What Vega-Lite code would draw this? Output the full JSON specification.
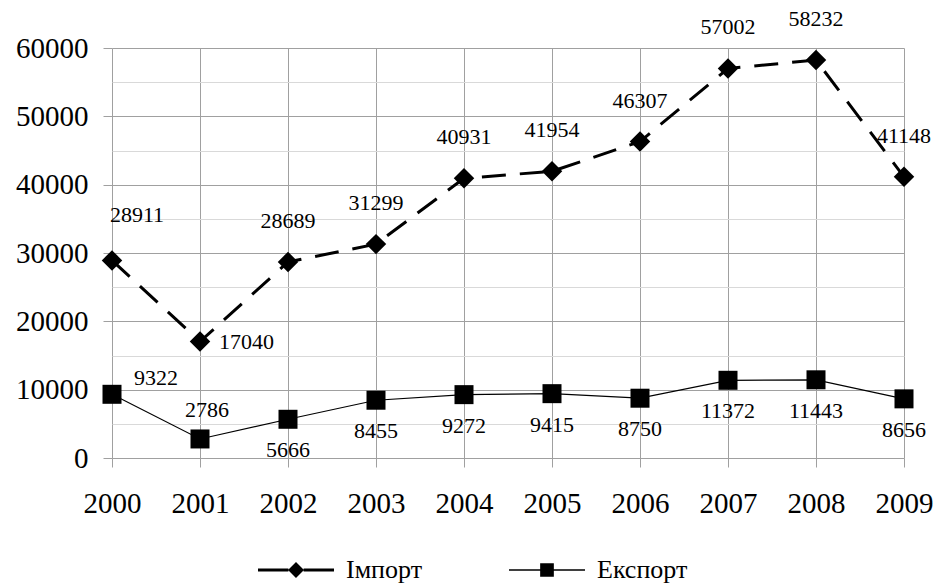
{
  "$schema": "https://vega.github.io/schema/vega-lite/v6.json",
  "autosize": {"type": "none"},
  "padding": {"left": 112, "top": 48, "right": 32, "bottom": 130},
  "width": 792,
  "height": 410,
  "config": {
    "view": {"stroke": null},
    "font": "Liberation Serif, Times New Roman, DejaVu Serif, serif",
    "text": {"font": "Liberation Serif, Times New Roman, DejaVu Serif, serif", "fontSize": 22, "color": "black"}
  },
  "data": {
    "values": [
      {"year": "2000", "series": "Імпорт", "value": 28911},
      {"year": "2001", "series": "Імпорт", "value": 17040},
      {"year": "2002", "series": "Імпорт", "value": 28689},
      {"year": "2003", "series": "Імпорт", "value": 31299},
      {"year": "2004", "series": "Імпорт", "value": 40931},
      {"year": "2005", "series": "Імпорт", "value": 41954},
      {"year": "2006", "series": "Імпорт", "value": 46307},
      {"year": "2007", "series": "Імпорт", "value": 57002},
      {"year": "2008", "series": "Імпорт", "value": 58232},
      {"year": "2009", "series": "Імпорт", "value": 41148},
      {"year": "2000", "series": "Експорт", "value": 9322},
      {"year": "2001", "series": "Експорт", "value": 2786},
      {"year": "2002", "series": "Експорт", "value": 5666},
      {"year": "2003", "series": "Експорт", "value": 8455},
      {"year": "2004", "series": "Експорт", "value": 9272},
      {"year": "2005", "series": "Експорт", "value": 9415},
      {"year": "2006", "series": "Експорт", "value": 8750},
      {"year": "2007", "series": "Експорт", "value": 11372},
      {"year": "2008", "series": "Експорт", "value": 11443},
      {"year": "2009", "series": "Експорт", "value": 8656}
    ]
  },
  "encoding": {
    "x": {
      "field": "year", "type": "ordinal",
      "scale": {"type": "point", "padding": 0},
      "axis": {
        "title": null, "labelAngle": 0, "labelFontSize": 29,
        "labelFont": "Liberation Serif, Times New Roman, DejaVu Serif, serif",
        "labelColor": "black", "domain": false, "grid": true, "gridColor": "#a0a0a0",
        "gridWidth": 1, "tickColor": "#a0a0a0", "tickSize": 9, "labelPadding": 22
      }
    },
    "y": {
      "field": "value", "type": "quantitative",
      "scale": {"domain": [0, 60000], "nice": false},
      "axis": {
        "title": null,
        "values": [0, 5000, 10000, 15000, 20000, 25000, 30000, 35000, 40000, 45000, 50000, 55000, 60000],
        "labelExpr": "datum.value % 10000 === 0 ? datum.value : ''",
        "labelFontSize": 29, "labelFont": "Liberation Serif, Times New Roman, DejaVu Serif, serif",
        "labelColor": "black",
        "domain": false, "tickSize": 9, "labelPadding": 15,
        "gridColor": {"condition": {"test": "datum.value % 10000 === 0", "value": "#a0a0a0"}, "value": "#d9d9d9"},
        "tickColor": {"condition": {"test": "datum.value % 10000 === 0", "value": "#a0a0a0"}, "value": "transparent"}
      }
    }
  },
  "layer": [
    {
      "transform": [{"filter": "datum.series === 'Імпорт'"}],
      "mark": {"type": "line", "color": "black", "strokeWidth": 3, "strokeDash": [24, 14]},
      "encoding": {}
    },
    {
      "transform": [{"filter": "datum.series === 'Експорт'"}],
      "mark": {"type": "line", "color": "black", "strokeWidth": 1.2},
      "encoding": {}
    },
    {
      "transform": [{"filter": "datum.series === 'Імпорт'"}],
      "mark": {"type": "point", "shape": "diamond", "filled": true, "color": "black", "opacity": 1, "size": 420},
      "encoding": {}
    },
    {
      "transform": [{"filter": "datum.series === 'Експорт'"}],
      "mark": {"type": "point", "shape": "square", "filled": true, "color": "black", "opacity": 1, "size": 361},
      "encoding": {}
    },
    {
      "transform": [{"filter": "false"}],
      "mark": {"type": "point", "filled": true, "color": "black"},
      "encoding": {
        "shape": {
          "field": "series", "type": "nominal",
          "scale": {
            "domain": ["Імпорт", "Експорт"],
            "range": [
              "M-1,-0.04L-0.2,-0.04L-0.2,0.04L-1,0.04Z M0.2,-0.04L1,-0.04L1,0.04L0.2,0.04Z M-0.21,0L0,-0.21L0.21,0L0,0.21Z",
              "M-1,-0.018L-0.18,-0.018L-0.18,0.018L-1,0.018Z M0.18,-0.018L1,-0.018L1,0.018L0.18,0.018Z M-0.18,-0.18L0.18,-0.18L0.18,0.18L-0.18,0.18Z"
            ]
          },
          "legend": {
            "title": null, "orient": "none", "direction": "horizontal",
            "legendX": 146, "legendY": 484,
            "symbolSize": 5776, "symbolStrokeWidth": 0, "symbolFillColor": "black", "symbolOpacity": 1,
            "labelFontSize": 26, "labelFont": "Liberation Serif, Times New Roman, DejaVu Serif, serif",
            "labelColor": "black", "labelOffset": 12, "columnPadding": 86
          }
        }
      }
    },
    {
      "transform": [{"filter": "datum.series === 'Імпорт' && datum.year !== '2000' && datum.year !== '2001'"}],
      "mark": {"type": "text", "dy": -41},
      "encoding": {"text": {"field": "value", "type": "quantitative", "format": "d"}}
    },
    {
      "transform": [{"filter": "datum.series === 'Імпорт' && datum.year === '2000'"}],
      "mark": {"type": "text", "dy": -45, "dx": 25},
      "encoding": {"text": {"field": "value", "type": "quantitative", "format": "d"}}
    },
    {
      "transform": [{"filter": "datum.series === 'Імпорт' && datum.year === '2001'"}],
      "mark": {"type": "text", "align": "left", "dx": 19, "dy": 0},
      "encoding": {"text": {"field": "value", "type": "quantitative", "format": "d"}}
    },
    {
      "transform": [{"filter": "datum.series === 'Експорт' && datum.year === '2000'"}],
      "mark": {"type": "text", "dx": 44, "dy": -16},
      "encoding": {"text": {"field": "value", "type": "quantitative", "format": "d"}}
    },
    {
      "transform": [{"filter": "datum.series === 'Експорт' && datum.year === '2001'"}],
      "mark": {"type": "text", "dx": 7, "dy": -29},
      "encoding": {"text": {"field": "value", "type": "quantitative", "format": "d"}}
    },
    {
      "transform": [{"filter": "datum.series === 'Експорт' && datum.year !== '2000' && datum.year !== '2001'"}],
      "mark": {"type": "text", "dy": 31},
      "encoding": {"text": {"field": "value", "type": "quantitative", "format": "d"}}
    }
  ]
}
